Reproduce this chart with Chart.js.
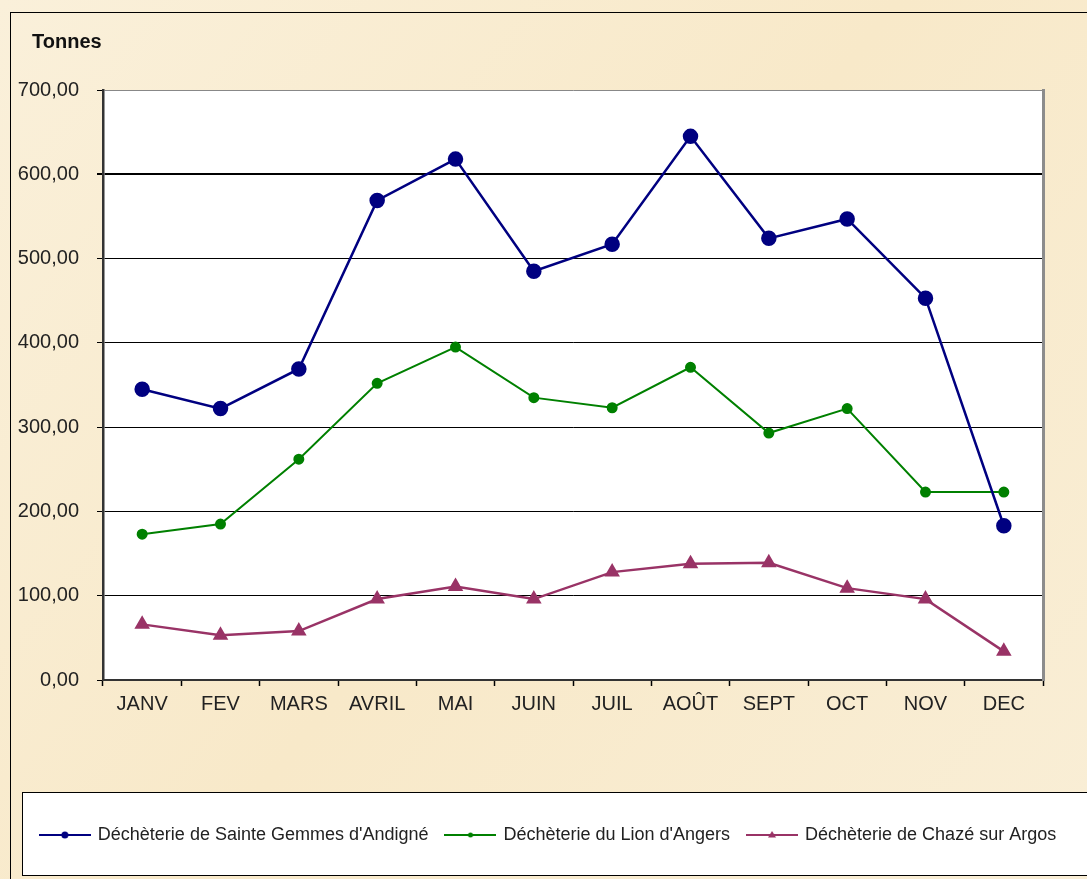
<!DOCTYPE html>
<html>
<head>
<meta charset="utf-8">
<script src="https://cdn.jsdelivr.net/npm/chart.js@4"></script>
<style>
  html, body { margin: 0; padding: 0; background: #f8ecd2; }
  #wrap { width: 1087px; height: 879px; position: relative; }
</style>
</head>
<body>
<div id="wrap"><canvas id="chart" width="1087" height="879"></canvas></div>
<script>
const months = ["JANV", "FEV", "MARS", "AVRIL", "MAI", "JUIN", "JUIL", "AOÛT", "SEPT", "OCT", "NOV", "DEC"];
const sainteGemmes = [345, 322, 369, 569, 618, 485, 517, 645, 524, 547, 453, 183];
const lionAngers = [173, 185, 262, 352, 395, 335, 323, 371, 293, 322, 223, 223];
const chazeArgos = [66, 53, 58, 96, 111, 96, 128, 138, 139, 109, 96, 34];
const seriesNames = [
  "Déchèterie de Sainte Gemmes d'Andigné",
  "Déchèterie du Lion d'Angers",
  "Déchèterie de Chazé sur Argos"
];
const yTicks = [0, 100, 200, 300, 400, 500, 600, 700];

const colors = ["#000080", "#008000", "#993366"];
const styles = ["circle", "circle", "triangle"];
const radii = [6.5, 4.5, 6.5];
const widths = [2.5, 2, 2.5];

// Legend icons: a line with the marker in the middle
function makeIcon(color, style, r) {
  const c = document.createElement("canvas");
  c.width = 52;
  c.height = 14;
  const g = c.getContext("2d");
  g.strokeStyle = color;
  g.lineWidth = 2;
  g.beginPath();
  g.moveTo(0, 7);
  g.lineTo(52, 7);
  g.stroke();
  g.fillStyle = color;
  g.beginPath();
  if (style === "triangle") {
    g.moveTo(26, 7 - r);
    g.lineTo(26 + r, 7 + r * 0.6);
    g.lineTo(26 - r, 7 + r * 0.6);
    g.closePath();
  } else {
    g.arc(26, 7, r, 0, Math.PI * 2);
  }
  g.fill();
  return c;
}
const icons = [makeIcon(colors[0], "circle", 3.5), makeIcon(colors[1], "circle", 2.5), makeIcon(colors[2], "triangle", 4)];

// Parchment background, frame, plot area, legend box and "Tonnes"
const backdrop = {
  id: "backdrop",
  beforeDraw(chart) {
    const { ctx, chartArea: a, width, height } = chart;
    ctx.save();
    const grad = ctx.createLinearGradient(0, 0, width, height);
    grad.addColorStop(0, "#faf0da");
    grad.addColorStop(0.5, "#f8e9c9");
    grad.addColorStop(1, "#f9eed6");
    ctx.fillStyle = grad;
    ctx.fillRect(0, 0, width, height);

    ctx.strokeStyle = "#000";
    ctx.lineWidth = 1;
    ctx.strokeRect(10.5, 12.5, width + 20, height + 20);

    ctx.fillStyle = "#fff";
    ctx.fillRect(a.left, a.top, a.right - a.left, a.bottom - a.top);

    ctx.fillStyle = "#fff";
    ctx.fillRect(22.5, 792.5, width, 83);
    ctx.strokeStyle = "#000";
    ctx.strokeRect(22.5, 792.5, width, 83);

    ctx.fillStyle = "#111";
    ctx.font = "bold 20px 'Liberation Sans', Arial, sans-serif";
    ctx.textBaseline = "middle";
    ctx.fillText("Tonnes", 32, 42);
    ctx.restore();
  }
};

const datasets = [sainteGemmes, lionAngers, chazeArgos].map((data, i) => ({
  label: seriesNames[i],
  data,
  borderColor: colors[i],
  backgroundColor: colors[i],
  borderWidth: widths[i],
  pointStyle: styles[i],
  pointRadius: radii[i],
  pointHoverRadius: radii[i],
  tension: 0
}));

const font = { family: "'Liberation Sans', Arial, sans-serif", size: 20 };

new Chart(document.getElementById("chart"), {
  type: "line",
  data: { labels: months, datasets },
  plugins: [backdrop],
  options: {
    responsive: false,
    animation: false,
    layout: { padding: { left: 10, right: 0, top: 90, bottom: 25 } },
    plugins: {
      title: { display: false },
      tooltip: { enabled: false },
      legend: {
        position: "bottom",
        labels: {
          usePointStyle: true,
          pointStyleWidth: 48,
          padding: 18,
          color: "#222",
          font: { family: font.family, size: 18 },
          generateLabels: chart =>
            Chart.defaults.plugins.legend.labels.generateLabels(chart).map((l, i) => ({ ...l, pointStyle: icons[i] }))
        }
      }
    },
    scales: {
      x: {
        offset: true,
        grid: { offset: true, drawOnChartArea: false, color: "#000", tickLength: 6, tickWidth: 1.5 },
        border: { color: "#333", width: 2 },
        ticks: { color: "#222", font, padding: 6, maxRotation: 0 },
        afterFit: s => { s.height = 128; }
      },
      y: {
        min: 0,
        max: 700,
        afterBuildTicks: s => { s.ticks = yTicks.map(v => ({ value: v })); },
        grid: {
          color: c => (c.tick && c.tick.value === 700 ? "#888" : "#000"),
          lineWidth: c => (c.tick && c.tick.value === 600 ? 2 : 1),
          tickLength: 6,
          tickColor: "#000"
        },
        border: { color: "#333", width: 2.5 },
        ticks: {
          color: "#222",
          font,
          padding: 18,
          callback: v => v.toFixed(2).replace(".", ",")
        },
        afterFit: s => { s.width = 93; }
      },
      y2: {
        position: "right",
        min: 0,
        max: 700,
        grid: { display: false },
        ticks: { display: false },
        border: { color: "#8c8c8c", width: 3 },
        afterFit: s => { s.width = 44; }
      }
    }
  }
});
</script>
</body>
</html>
